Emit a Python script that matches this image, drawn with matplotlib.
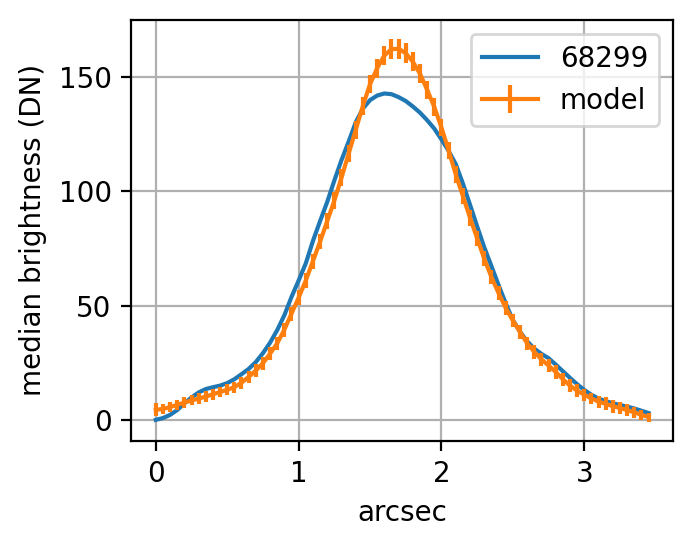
import matplotlib
matplotlib.use("Agg")
import matplotlib.pyplot as plt

# radial distance (arcsec)
arcsec = [0.00, 0.05, 0.10, 0.15, 0.20, 0.25, 0.30, 0.35, 0.40, 0.45,
          0.50, 0.55, 0.60, 0.65, 0.70, 0.75, 0.80, 0.85, 0.90, 0.95,
          1.00, 1.05, 1.10, 1.15, 1.20, 1.25, 1.30, 1.35, 1.40, 1.45,
          1.50, 1.55, 1.60, 1.65, 1.70, 1.75, 1.80, 1.85, 1.90, 1.95,
          2.00, 2.05, 2.10, 2.15, 2.20, 2.25, 2.30, 2.35, 2.40, 2.45,
          2.50, 2.55, 2.60, 2.65, 2.70, 2.75, 2.80, 2.85, 2.90, 2.95,
          3.00, 3.05, 3.10, 3.15, 3.20, 3.25, 3.30, 3.35, 3.40, 3.45]

# observed median brightness (DN)
obs = [0.0, 0.8, 2.2, 4.3, 7.2, 9.8, 12.0, 13.5, 14.3, 15.0,
       16.1, 17.8, 20.0, 22.3, 25.3, 29.2, 33.8, 39.3, 45.8, 53.8,
       61.0, 68.5, 78.3, 87.0, 95.4, 104.8, 113.7, 121.8, 130.3, 136.3,
       140.0, 142.0, 142.9, 142.6, 141.3, 139.6, 137.2, 134.5, 131.2, 127.5,
       122.8, 117.8, 112.0, 103.5, 94.2, 84.7, 75.5, 67.3, 59.0, 51.0,
       43.7, 38.6, 34.4, 31.2, 28.9, 27.0, 24.2, 21.3, 18.4, 15.6,
       13.1, 11.0, 9.3, 8.2, 7.3, 6.5, 5.8, 5.0, 4.0, 3.0]

# model profile and its uncertainty
model = [4.4, 4.8, 5.6, 6.6, 7.6, 8.5, 9.3, 10.2, 11.2, 12.2,
         13.2, 14.3, 16.3, 18.8, 21.6, 24.8, 29.0, 33.5, 39.5, 46.5,
         53.5, 61.0, 69.5, 78.0, 87.0, 96.0, 106.0, 116.5, 127.0, 137.5,
         147.0, 154.0, 159.5, 162.3, 162.5, 160.5, 156.8, 151.5, 144.5, 137.0,
         128.0, 118.0, 107.5, 98.0, 88.5, 79.5, 70.5, 62.5, 55.5, 49.0,
         43.5, 38.5, 33.5, 29.8, 26.5, 23.8, 21.0, 17.8, 15.0, 12.8,
         11.0, 9.4, 8.0, 7.0, 6.0, 5.2, 4.3, 3.3, 2.2, 1.2]
model_err = [2.8, 2.2, 2.2, 2.2, 2.2, 2.2, 2.3, 2.3, 2.4, 2.4,
             2.5, 2.5, 2.6, 2.7, 2.8, 2.9, 3.0, 3.0, 3.0, 3.1,
             3.2, 3.3, 3.3, 3.4, 3.5, 3.6, 3.7, 3.8, 3.9, 4.0,
             4.1, 4.2, 4.3, 4.3, 4.3, 4.3, 4.2, 4.1, 4.0, 3.9,
             3.8, 3.7, 3.6, 3.5, 3.4, 3.3, 3.3, 3.2, 3.1, 3.1,
             3.0, 3.0, 3.0, 3.0, 3.0, 2.9, 2.9, 2.8, 2.8, 2.7,
             2.6, 2.4, 2.6, 2.8, 2.9, 2.8, 2.6, 2.4, 2.2, 2.0]

fig = plt.figure(figsize=(3.47, 2.745), dpi=200)
ax = fig.add_axes([0.189, 0.197, 0.781, 0.767])

ax.plot(arcsec, obs, label="68299")
ax.errorbar(arcsec, model, yerr=model_err, label="model")
ax.set_xlabel("arcsec")
ax.set_ylabel("median brightness (DN)")
ax.grid(True)
ax.legend(loc="upper right")

fig.savefig("out.png", dpi=200)
